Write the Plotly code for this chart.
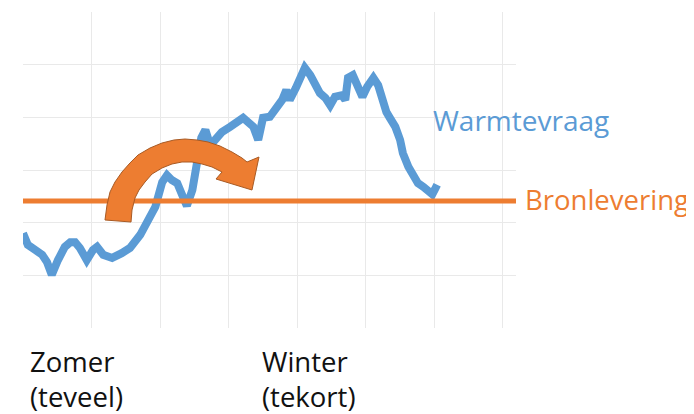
import plotly.graph_objects as go

# Heat demand over the year (grid units, no tick labels in original)
demand_x = [0.00, 0.07, 0.18, 0.28, 0.35, 0.42, 0.51, 0.61, 0.69, 0.76, 0.83, 0.93, 1.02, 1.08,
            1.17, 1.30, 1.44, 1.56, 1.71, 1.82, 1.93, 2.03, 2.10, 2.17, 2.25, 2.32, 2.39, 2.47,
            2.54, 2.60, 2.66, 2.73, 2.80, 2.90, 3.02, 3.12, 3.21, 3.28, 3.36, 3.43, 3.50, 3.60,
            3.71, 3.78, 3.84, 3.89, 3.98, 4.06, 4.11, 4.19, 4.26, 4.33, 4.41, 4.48, 4.55, 4.65,
            4.70, 4.74, 4.81, 4.89, 4.95, 5.02, 5.11, 5.18, 5.24, 5.30, 5.35, 5.43, 5.50, 5.54,
            5.62, 5.69, 5.76, 5.84, 5.91, 5.97, 6.01, 6.04]
demand_y = [1.80, 1.58, 1.48, 1.39, 1.25, 1.01, 1.29, 1.54, 1.63, 1.63, 1.52, 1.29, 1.48, 1.54,
            1.39, 1.33, 1.42, 1.52, 1.77, 2.05, 2.30, 2.77, 2.90, 2.81, 2.75, 2.53, 2.32, 2.62,
            3.19, 3.61, 3.76, 3.47, 3.57, 3.72, 3.82, 3.91, 3.99, 3.91, 3.82, 3.57, 3.99, 4.01,
            4.18, 4.33, 4.52, 4.33, 4.56, 4.80, 4.94, 4.80, 4.61, 4.46, 4.37, 4.23, 4.39, 4.42,
            4.33, 4.75, 4.80, 4.61, 4.39, 4.58, 4.75, 4.61, 4.33, 4.10, 3.99, 3.82, 3.57, 3.32,
            3.06, 2.87, 2.75, 2.68, 2.58, 2.54, 2.64, 2.72]

# Constant source supply
supply_x = [0.0, 7.19]
supply_y = [2.41, 2.41]

x_grid = [0, 1, 2, 3, 4, 5, 6, 7]
y_grid = [0, 1, 2, 3, 4, 5, 6]

BLUE = "#5b9bd5"
ORANGE = "#ed7d31"

fig = go.Figure()
fig.add_trace(go.Scatter(x=demand_x, y=demand_y, mode="lines",
                         line=dict(color=BLUE, width=8), hoverinfo="skip"))
fig.add_trace(go.Scatter(x=supply_x, y=supply_y, mode="lines",
                         line=dict(color=ORANGE, width=5), hoverinfo="skip"))

# page body has an 8px default margin, so the figure is offset by 8px
OFF = 8
L, R, T, B = 23, 516, 12, 328  # plot area in window pixels
def px(x):
    return (x - L) / (R - L)
def py(y):
    return (B - y) / (B - T)

arrow_px = [(105, 220), (107, 205), (110, 192), (115, 182), (122, 172), (130, 163), (138, 155),
            (150, 148), (162, 143), (174, 140), (185, 139), (197, 140), (208, 142), (220, 146),
            (232, 152), (242, 158), (247, 162), (259, 157), (252, 190), (216, 179), (222, 172),
            (212, 167), (202, 164), (192, 162), (182, 162), (172, 164), (162, 168), (152, 174),
            (145, 182), (139, 190), (135, 198), (132, 210), (131, 222)]
path = "M " + " L ".join(f"{px(a):.4f},{py(b):.4f}" for a, b in arrow_px) + " Z"
fig.add_shape(type="path", path=path, xref="paper", yref="paper",
              fillcolor=ORANGE, line=dict(color="#a85a24", width=1), layer="above")

FONT = "Open Sans"
def label(text, x, y, color, size=28):
    fig.add_annotation(text=text, x=x, y=y, xref="paper", yref="paper",
                       xanchor="left", yanchor="middle", showarrow=False,
                       font=dict(family=FONT, size=size, color=color))

label("Warmtevraag", px(431), py(120), BLUE)
label("Bronlevering", px(523), py(199), ORANGE, 27.5)
label("Zomer", px(28), py(361), "#111111", 27.5)
label("(teveel)", px(28), py(396), "#111111", 27.5)
label("Winter", px(260), py(361), "#111111", 27.5)
label("(tekort)", px(260), py(396), "#111111", 27.5)

W, H = 694, 414
fig.update_layout(
    width=W, height=H,
    margin=dict(l=L - OFF, r=W - (R - OFF), t=T - OFF, b=H - (B - OFF)),
    paper_bgcolor="white", plot_bgcolor="white",
    showlegend=False,
    xaxis=dict(range=[0, 7.19], tickvals=x_grid, showticklabels=False, showgrid=True,
               gridcolor="#e9e9e9", gridwidth=1, zeroline=False, showline=False, fixedrange=True),
    yaxis=dict(range=[0, 6], tickvals=y_grid, showticklabels=False, showgrid=True,
               gridcolor="#e9e9e9", gridwidth=1, zeroline=False, showline=False, fixedrange=True),
)

fig.write_html("out.html", config={"displayModeBar": False})
